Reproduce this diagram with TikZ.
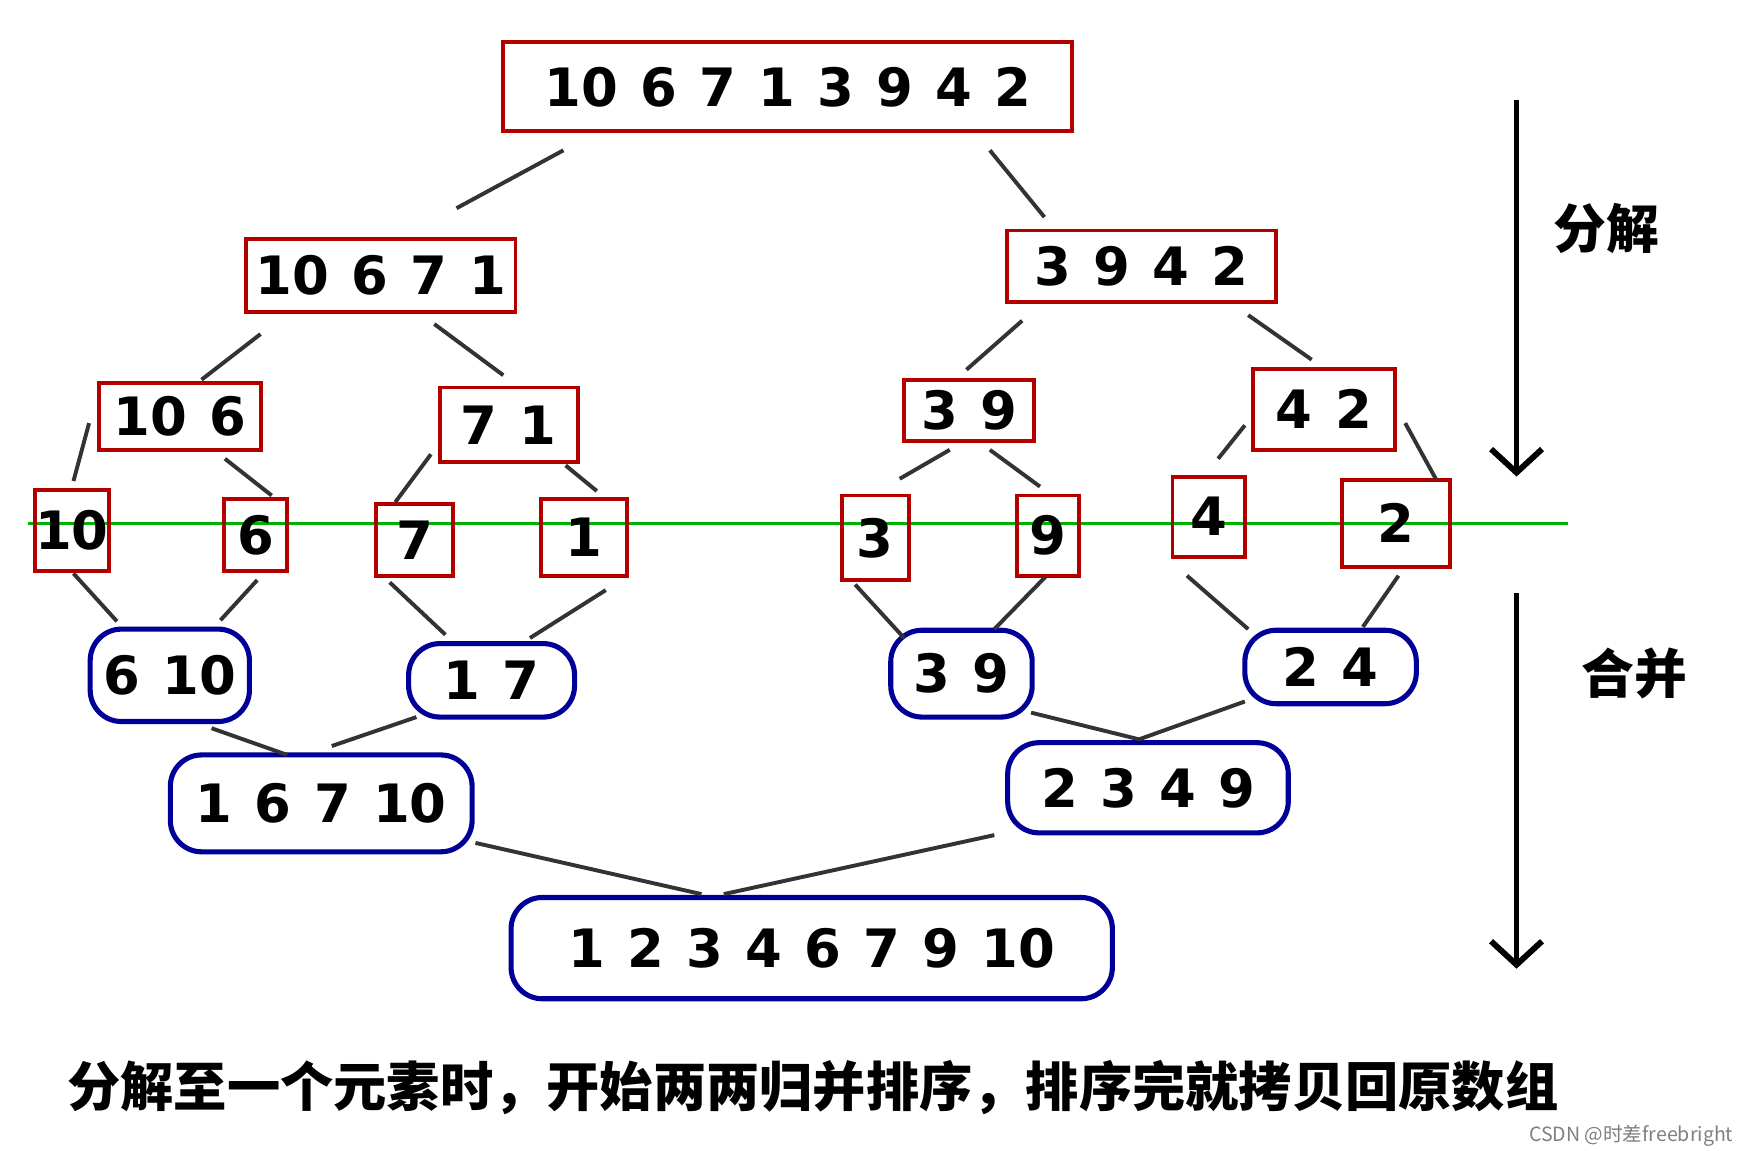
\documentclass[tikz,border=0pt]{standalone}
\usepackage{fontspec}
\setmainfont{DejaVu Sans}
\newfontfamily\cjk{Noto Sans CJK SC}
\usetikzlibrary{arrows.meta}
\newcommand{\gsp}{\hspace{0.2cm}}
\newcommand{\mybox}[7]{\node[#1,minimum width={(#5-#3)*0.01cm},minimum height={(#6-#4)*0.01cm}] (#2) at ({(#3+#5)/2},{(#4+#6)/2}) {#7};}
\tikzset{
 redbox/.style={draw=red!70!black,line width=1pt,inner sep=0pt,font=\fontsize{13.5}{15}\selectfont\bfseries},
 bluebox/.style={draw=blue!60!black,line width=1.3pt,rounded corners=8pt,inner sep=0pt,font=\fontsize{13.5}{15}\selectfont\bfseries},
 conn/.style={line width=1pt,black!80}
}
\begin{document}
\begin{tikzpicture}[x=0.01cm,y=-0.01cm]
\useasboundingbox[fill=white] (0,0) rectangle (1560,1033);
\draw[green!70!black,line width=0.8pt] (25,470) -- (1408,470);
\mybox{redbox}{A}{452}{38}{963}{118}{10\gsp 6\gsp 7\gsp 1\gsp 3\gsp 9\gsp 4\gsp 2}
\mybox{redbox}{B}{221}{215}{463}{280}{10\gsp 6\gsp 7\gsp 1}
\mybox{redbox}{C}{904}{207}{1146}{271}{3\gsp 9\gsp 4\gsp 2}
\mybox{redbox}{D}{89}{344}{234}{404}{10\gsp 6}
\mybox{redbox}{E}{395}{348}{519}{415}{7\gsp 1}
\mybox{redbox}{F}{812}{341}{929}{396}{3\gsp 9}
\mybox{redbox}{G}{1125}{331}{1253}{404}{4\gsp 2}
\mybox{redbox}{l10}{32}{440}{97}{513}{10}
\mybox{redbox}{l6}{201}{448}{258}{513}{6}
\mybox{redbox}{l7}{338}{453}{407}{517}{7}
\mybox{redbox}{l1}{486}{448}{563}{517}{1}
\mybox{redbox}{l3}{756}{445}{816}{521}{3}
\mybox{redbox}{l9}{913}{445}{969}{517}{9}
\mybox{redbox}{l4}{1053}{428}{1118}{500}{4}
\mybox{redbox}{l2}{1205}{431}{1302}{509}{2}
\mybox{bluebox}{m610}{81}{565}{224}{648}{6\gsp 10}
\mybox{bluebox}{m17}{367}{578}{516}{644}{1\gsp 7}
\mybox{bluebox}{m39}{800}{566}{927}{644}{3\gsp 9}
\mybox{bluebox}{m24}{1118}{566}{1272}{632}{2\gsp 4}
\mybox{bluebox}{m1}{153}{678}{424}{765}{1\gsp 6\gsp 7\gsp 10}
\mybox{bluebox}{m2}{905}{667}{1157}{748}{2\gsp 3\gsp 4\gsp 9}
\mybox{bluebox}{fin}{459}{806}{999}{897}{1\gsp 2\gsp 3\gsp 4\gsp 6\gsp 7\gsp 9\gsp 10}
\foreach \a/\b/\c/\d in {506/135/410/187, 889/135/938/195, 234/300/181/341, 390/291/452/337,
 918/288/868/332, 1121/283/1178/323, 80/380/66/432, 202/412/244/445, 387/408/355/451,
 508/418/536/441, 853/404/808/430, 889/404/934/437, 1118/382/1094/412, 1262/380/1290/431,
 66/515/105/558, 231/521/198/557, 350/523/400/570, 544/530/476/573, 768/525/812/573,
 939/518/893/565, 1066/517/1121/565, 1256/517/1224/563, 190/654/258/678, 374/644/298/670,
 926/640/1023/664, 1118/630/1023/664, 427/757/630/803, 893/750/650/803}
 \draw[conn] (\a,\b) -- (\c,\d);
\coordinate (a1s) at (1362,90); \coordinate (a1e) at (1362,428);
\coordinate (a2s) at (1362,533); \coordinate (a2e) at (1362,870);
\draw[line width=1.5pt,-{Straight Barb[length=6pt,width=13pt]}] (a1s) -- (a1e);
\draw[line width=1.5pt,-{Straight Barb[length=6pt,width=13pt]}] (a2s) -- (a2e);
\node[font=\cjk\bfseries\fontsize{13.5}{16}\selectfont] (t1) at (1443,205) {分解};
\node[font=\cjk\bfseries\fontsize{13.5}{16}\selectfont] (t2) at (1468,605) {合并};
\node[font=\cjk\bfseries\fontsize{13.6}{16}\selectfont] (cap) at (730,977) {分解至一个元素时，开始两两归并排序，排序完就拷贝回原数组};
\node[font=\fontsize{5}{6}\selectfont\cjk,text=gray] (wm) at (1465,1020) {CSDN @时差freebright};
\end{tikzpicture}
\end{document}
